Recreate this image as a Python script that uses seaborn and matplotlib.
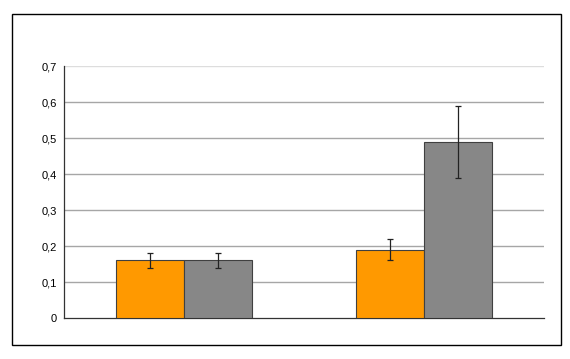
import matplotlib
matplotlib.use("Agg")
import matplotlib.pyplot as plt
import seaborn as sns
import pandas as pd
import numpy as np
from matplotlib.patches import Rectangle

categories = ["A", "B"]
series = ["S1", "S2"]
values_s1 = [0.16, 0.19]
values_s2 = [0.16, 0.49]
err_s1 = [0.02, 0.03]
err_s2 = [0.02, 0.10]
yticks = [0, 0.1, 0.2, 0.3, 0.4, 0.5, 0.6, 0.7]
ytick_labels = ["0", "0,1", "0,2", "0,3", "0,4", "0,5", "0,6", "0,7"]

df = pd.DataFrame({
    "cat": categories * 2,
    "series": [series[0]] * 2 + [series[1]] * 2,
    "value": values_s1 + values_s2,
    "err": err_s1 + err_s2,
})

sns.set_style("white")
plt.rcParams["font.family"] = ["Liberation Sans", "DejaVu Sans"]

fig = plt.figure(figsize=(5.7, 3.59), dpi=100)
ax = fig.add_axes([64/570, 1 - 318/359, (544-64)/570, (318-66)/359])

sns.barplot(data=df, x="cat", y="value", hue="series", order=categories,
            hue_order=series, palette=["#FF9900", "#878787"], saturation=1,
            width=0.567, edgecolor="#404040", linewidth=0.8, errorbar=None,
            legend=False, ax=ax, zorder=3)

# error bars at bar centers
for patch, (_, row) in zip(ax.patches, df.iterrows()):
    cx = patch.get_x() + patch.get_width() / 2
    ax.errorbar(cx, row["value"], yerr=row["err"], fmt="none",
                ecolor="#222222", elinewidth=0.9, capsize=2.5, capthick=0.9, zorder=4)

ax.set_xlim(-0.5, 1.5)
ax.set_ylim(0, 0.7)
ax.set_yticks(yticks)
ax.set_yticklabels(ytick_labels, fontsize=8, color="black")
ax.set_xticks([-0.5, 0.5, 1.5])
ax.set_xticklabels([])
ax.set_xlabel("")
ax.set_ylabel("")
for y in yticks[1:-1]:
    ax.axhline(y, color="#a6a6a6", linewidth=1.0, zorder=1)
ax.axhline(0.7, color="#dddddd", linewidth=1.0, zorder=1)

for s in ["top", "right"]:
    ax.spines[s].set_visible(False)
for s in ["left", "bottom"]:
    ax.spines[s].set_color("#333333")
    ax.spines[s].set_linewidth(0.9)
ax.tick_params(axis="y", direction="out", length=3, width=0.8, color="#333333", pad=2)
ax.tick_params(axis="x", direction="out", length=3, width=0.8, color="#333333")

fig.patches.append(Rectangle((12/570, 1 - 345/359), (561-12)/570, (345-14)/359,
                             transform=fig.transFigure, fill=False,
                             edgecolor="black", linewidth=1.0))

fig.savefig("out.png", dpi=100)
